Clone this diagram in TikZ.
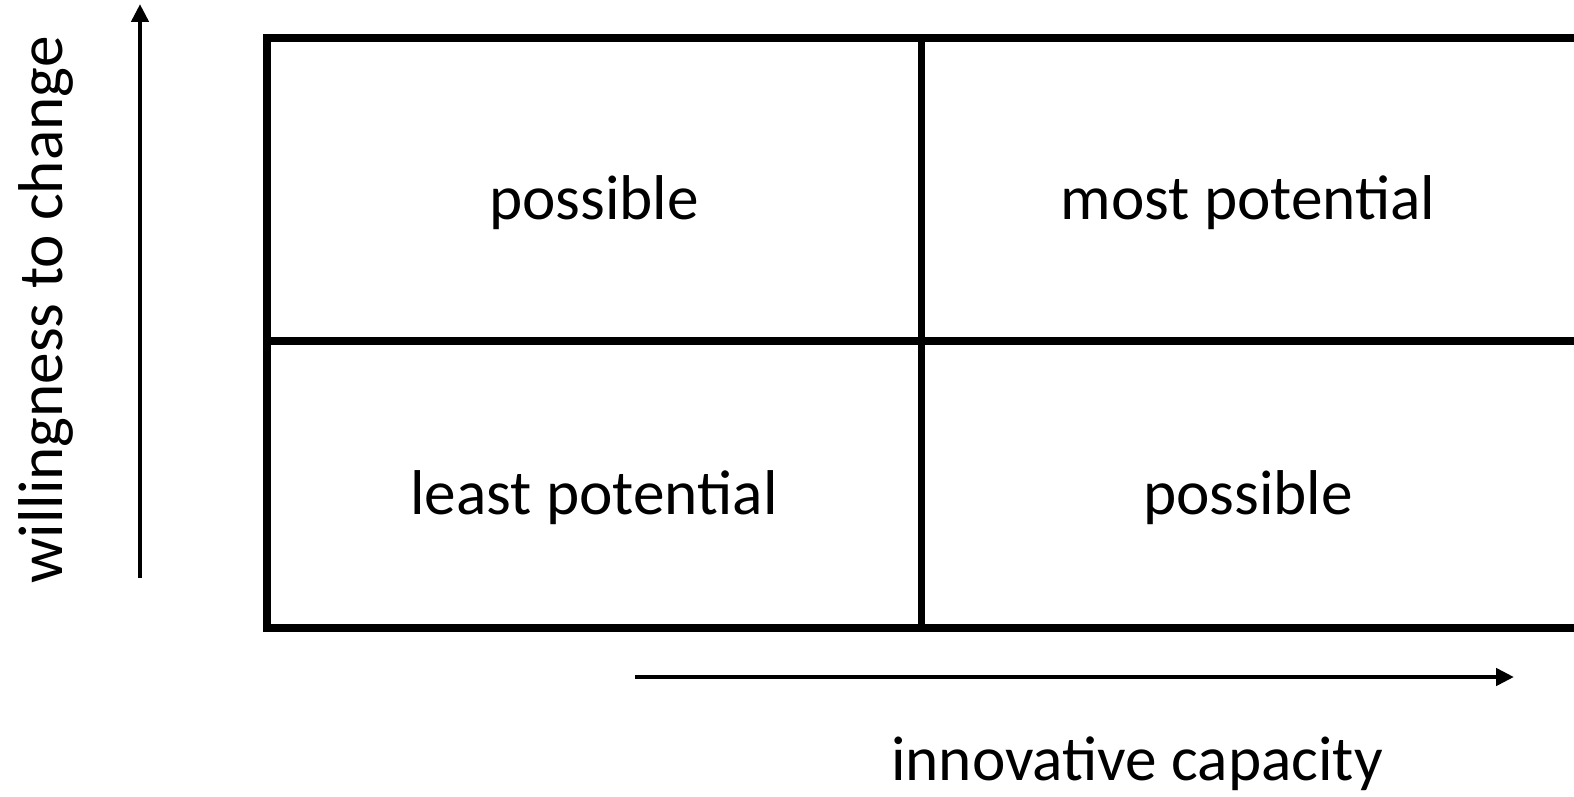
\documentclass[tikz,border=0pt]{standalone}
\usepackage{fontspec}
\setmainfont{Carlito}
\usepackage{tikz}
\usetikzlibrary{calc,arrows.meta}
\tikzset{>={Triangle[length=0.18cm,width=0.17cm]}}
\tikzset{cell/.style={font=\fontsize{18}{22}\selectfont},
         axis/.style={line width=1.3pt,->},
         grid line/.style={line width=2pt,line join=miter}}

\begin{document}
\begin{tikzpicture}
    \useasboundingbox (0,0) rectangle (15.74,7.96);
    % corners of the matrix
    \coordinate (tl) at (2.67,7.58);
    \coordinate (br) at (15.85,1.68);
    \coordinate (mid) at (9.21,4.55);

    \draw[grid line] (tl -| br) -- (tl) -- (br -| tl) -- (br);
    \draw[grid line] (mid -| tl) -- (mid -| br);
    \draw[grid line] (mid |- tl) -- (mid |- br);

    \node[cell] (hiLo) at (5.94,5.93) {possible};
    \node[cell] (hiHi) at (12.48,5.93) {most potential};
    \node[cell] (loLo) at (5.94,2.98) {least potential};
    \node[cell] (loHi) at (12.48,2.98) {possible};

    % axes
    \coordinate (yStart) at (1.40,2.18);
    \coordinate (yEnd) at (1.40,7.92);
    \coordinate (xStart) at (6.35,1.19);
    \coordinate (xEnd) at (15.14,1.19);
    \draw[axis] (yStart) -- (yEnd);
    \draw[axis] (xStart) -- (xEnd);

    \node[cell,rotate=90] (yLabel) at (0.46,4.86) {willingness to change};
    \node[cell] (xLabel) at (11.37,0.32) {innovative capacity};
\end{tikzpicture}
\end{document}
